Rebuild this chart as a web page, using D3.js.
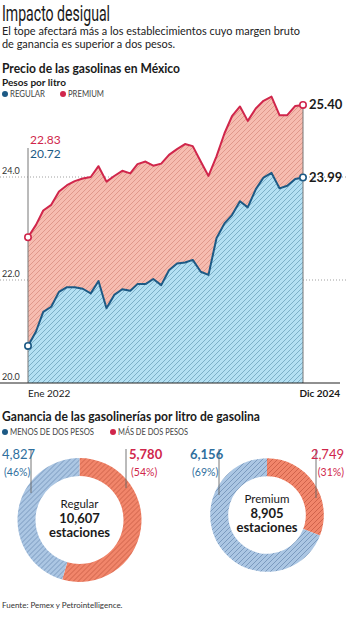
<!DOCTYPE html>
<html>
<head>
<meta charset="utf-8">
<script src="https://cdn.jsdelivr.net/npm/d3@7"></script>
<style>
    body { margin: 0; background: #fff; }
    svg { display: block; font-family: Lato, "Open Sans", sans-serif; }
</style>
</head>
<body>
<div id="chart"></div>
<script>
/*
----------------------------------------------------
    Data
----------------------------------------------------
*/
// Monthly prices, Ene 2022 .. Dic 2024 (pesos por litro)
var months = d3.range(36).map(i => new Date(2022, i, 1));
var premium = [22.83, 23.07, 23.35, 23.46, 23.72, 23.84, 23.92, 23.97, 24.00, 24.21,
    23.91, 24.02, 24.12, 24.07, 24.25, 24.30, 24.22, 24.26, 24.43, 24.54,
    24.64, 24.60, 24.30, 24.02, 24.40, 24.85, 25.18, 25.37, 25.09, 25.33,
    25.48, 25.56, 25.20, 25.20, 25.38, 25.40];
var regular = [20.72, 21.00, 21.38, 21.48, 21.77, 21.86, 21.86, 21.83, 21.74, 21.98,
    21.45, 21.71, 21.82, 21.79, 21.92, 21.92, 22.02, 21.90, 22.19, 22.32,
    22.34, 22.39, 22.16, 22.10, 22.81, 23.10, 23.26, 23.53, 23.41, 23.76,
    23.99, 24.08, 23.78, 23.83, 23.96, 23.99];
var yTicks = [20, 22, 24];

// Stations by margin: [menos de dos pesos, más de dos pesos]
var donutNames = ["Regular", "Premium"];
var donutTotals = [10607, 8905];
var donutCounts = [[4827, 5780], [6156, 2749]];
var donutShares = [[46, 54], [69, 31]];

/*
----------------------------------------------------
    Setup
----------------------------------------------------
*/
var W = 346, H = 620;
var colPremium = "#d0264b", colRegular = "#1d5a85";
var colText = "#1a1a1a";

var svg = d3.select("#chart").append("svg")
    .attr("width", W)
    .attr("height", H);

var defs = svg.append("defs");

// Diagonal hatch fill
function hatch(id, bg, line) {
    var p = defs.append("pattern")
        .attr("id", id)
        .attr("patternUnits", "userSpaceOnUse")
        .attr("width", 5)
        .attr("height", 5);
    p.append("rect").attr("width", 5).attr("height", 5).attr("fill", bg);
    p.append("path")
        .attr("d", "M-1,1 l2,-2 M0,5 l5,-5 M4,6 l2,-2")
        .attr("stroke", line)
        .attr("stroke-width", 0.8);
}
hatch("hPremium", "#f6bcb0", "#d98f82");
hatch("hRegular", "#b4e0f3", "#6fa3bd");
hatch("hBlue", "#abc6e3", "#6f8fb5");
hatch("hOrange", "#f1856a", "#c75a42");

// text helper; len squeezes the run to a fixed width
function label(x, y, txt, size, weight, fill, len) {
    var t = svg.append("text")
        .attr("x", x).attr("y", y)
        .style("font-size", size + "px")
        .style("font-weight", weight)
        .attr("fill", fill)
        .text(txt);
    if (len) t.attr("textLength", len).attr("lengthAdjust", "spacingAndGlyphs");
    return t;
}

/*
----------------------------------------------------
    Header
----------------------------------------------------
*/
label(2, 21, "Impacto desigual", 22, 400, colText, 108)
    .style("font-family", "Roboto, sans-serif");

label(2, 35, "El tope afectará más a los establecimientos cuyo margen bruto", 12, 400, "#222", 298);
label(2, 48, "de ganancia es superior a dos pesos.", 12, 400, "#222", 173);

label(2, 73, "Precio de las gasolinas en México", 13, 700, colText, 178);
label(2, 86, "Pesos por litro", 10, 700, colText, 64);

function legend(y, items) {
    items.forEach(d => {
        svg.append("circle")
            .attr("cx", d.x + 3).attr("cy", y - 3).attr("r", 3)
            .attr("fill", d.color);
        label(d.x + 8, y, d.label, 9, 400, "#444", d.len);
    });
}
legend(97, [
    { x: 2, color: colRegular, label: "REGULAR", len: 35 },
    { x: 60, color: colPremium, label: "PREMIUM", len: 36 }
]);

/*
----------------------------------------------------
    Line chart
----------------------------------------------------
*/
var x = d3.scaleTime()
    .domain([months[0], months[months.length - 1]])
    .range([28, 303]);

var y = d3.scaleLinear()
    .domain([20, 24])
    .range([383, 177]);

// dotted gridlines + labels
yTicks.forEach(t => {
    if (t > 20) {
        svg.append("line")
            .attr("x1", 0).attr("x2", W)
            .attr("y1", y(t)).attr("y2", y(t))
            .attr("stroke", "#888")
            .attr("stroke-width", 0.8)
            .attr("stroke-dasharray", "1,2");
    }
    label(2, y(t) - 3, t.toFixed(1), 9, 400, "#333");
});

var areaPremium = d3.area()
    .x((d, i) => x(months[i]))
    .y0((d, i) => y(regular[i]))
    .y1(d => y(d));

var areaRegular = d3.area()
    .x((d, i) => x(months[i]))
    .y0(y(20))
    .y1(d => y(d));

svg.append("path")
    .datum(premium)
    .attr("d", areaPremium)
    .attr("fill", "url(#hPremium)");

svg.append("path")
    .datum(regular)
    .attr("d", areaRegular)
    .attr("fill", "url(#hRegular)");

// start / end verticals
svg.append("line")
    .attr("x1", x(months[0])).attr("x2", x(months[0]))
    .attr("y1", 148).attr("y2", y(20))
    .attr("stroke", "#777").attr("stroke-width", 1);
svg.append("line")
    .attr("x1", x(months[35])).attr("x2", x(months[35]))
    .attr("y1", y(premium[35])).attr("y2", y(20))
    .attr("stroke", "#777").attr("stroke-width", 1);

var line = d3.line()
    .x((d, i) => x(months[i]))
    .y(d => y(d));

[[premium, colPremium], [regular, colRegular]].forEach(s => {
    svg.append("path")
        .datum(s[0])
        .attr("d", line)
        .attr("fill", "none")
        .attr("stroke", s[1])
        .attr("stroke-width", 2)
        .attr("stroke-linejoin", "round");
    [0, 35].forEach(i => {
        svg.append("circle")
            .attr("cx", x(months[i])).attr("cy", y(s[0][i])).attr("r", 3.2)
            .attr("fill", "#fff")
            .attr("stroke", s[1])
            .attr("stroke-width", 1.6);
    });
});

// baseline
svg.append("line")
    .attr("x1", 0).attr("x2", 340)
    .attr("y1", y(20)).attr("y2", y(20))
    .attr("stroke", "#222").attr("stroke-width", 1.2);

// start values
label(30, 144, premium[0].toFixed(2), 12, 400, colPremium);
label(30, 158, regular[0].toFixed(2), 12, 400, colRegular);

// end values
[premium, regular].forEach(s => {
    label(x(months[35]) + 6, y(s[35]) + 4, s[35].toFixed(2), 13, 700, colText);
});

label(28, 397, "Ene 2022", 10, 400, colText);
label(340, 397, "Dic 2024", 10, 700, colText).attr("text-anchor", "end");

/*
----------------------------------------------------
    Donuts
----------------------------------------------------
*/
label(2, 421, "Ganancia de las gasolinerías por litro de gasolina", 13, 700, colText, 258);

legend(435, [
    { x: 2, color: colRegular, label: "MENOS DE DOS PESOS", len: 84 },
    { x: 110, color: colPremium, label: "MÁS DE DOS PESOS", len: 70 }
]);

var centers = [[79.5, 520], [267, 515]];
var rScale = d3.scaleSqrt().domain([0, donutTotals[0]]).range([0, 62]);

var pie = d3.pie()
    .sort(null)
    .value(d => d);

donutNames.forEach((name, k) => {
    var R = rScale(donutTotals[k]);
    var arc = d3.arc().innerRadius(R - 18).outerRadius(R);
    var g = svg.append("g")
        .attr("transform", "translate(" + centers[k][0] + "," + centers[k][1] + ")");

    // orange (más de dos pesos) starts at 12 o'clock going clockwise
    var slices = pie([donutCounts[k][1], donutCounts[k][0]]);
    g.selectAll("path")
        .data(slices)
        .enter()
        .append("path")
        .attr("d", arc)
        .attr("fill", (d, i) => i === 0 ? "url(#hOrange)" : "url(#hBlue)");

    var lines = [
        { t: name, dy: -12, size: 11.5, w: 400 },
        { t: d3.format(",")(donutTotals[k]), dy: 3, size: 13, w: 700 },
        { t: "estaciones", dy: 17, size: 13, w: 700 }
    ];
    lines.forEach(l => {
        g.append("text")
            .attr("y", l.dy)
            .attr("text-anchor", "middle")
            .style("font-size", l.size + "px").style("font-weight", l.w)
            .attr("fill", colText)
            .text(l.t);
    });
});

// callout labels with short vertical leaders
var callouts = [
    { tx: 2, anchor: "start", lx: 31, ly: 493, k: 0, s: 0, bold: false },
    { tx: 129, anchor: "start", lx: 126, ly: 488, k: 0, s: 1, bold: true },
    { tx: 190, anchor: "start", lx: 219, ly: 495, k: 1, s: 0, bold: true },
    { tx: 344, anchor: "end", lx: 316, ly: 498, k: 1, s: 1, bold: false }
];
callouts.forEach(c => {
    var col = c.s === 0 ? "#2f6f9e" : colPremium;
    svg.append("line")
        .attr("x1", c.lx).attr("x2", c.lx)
        .attr("y1", 449).attr("y2", c.ly)
        .attr("stroke", "#666").attr("stroke-width", 0.9);
    label(c.tx, 459, d3.format(",")(donutCounts[c.k][c.s]), 13, c.bold ? 700 : 400, col)
        .attr("text-anchor", c.anchor);
    label(c.anchor === "start" ? c.tx + 2 : c.tx, 476, "(" + donutShares[c.k][c.s] + "%)", 10.5, 400, col)
        .attr("text-anchor", c.anchor);
});

label(2, 608, "Fuente: Pemex y Petrointelligence.", 8, 400, "#333");
</script>
</body>
</html>
